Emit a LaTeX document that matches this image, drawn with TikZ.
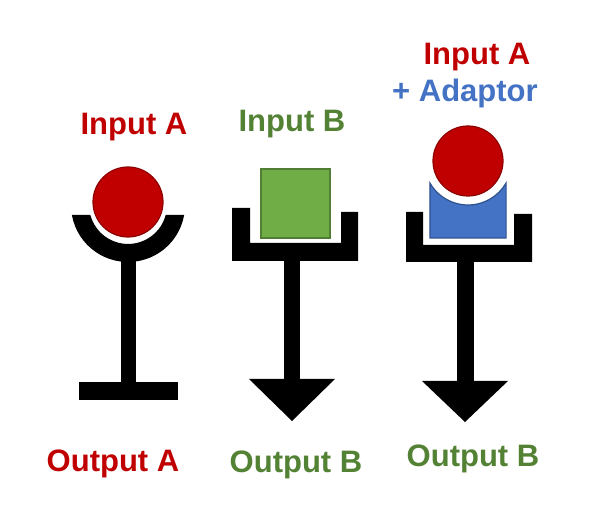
\documentclass[tikz,border=0pt]{standalone}
\usepackage{fontspec}
\setmainfont{Liberation Sans}
\definecolor{inred}{HTML}{C00000}
\definecolor{inredd}{HTML}{8E0000}
\definecolor{ingreen}{HTML}{70AD47}
\definecolor{ingreend}{HTML}{507E32}
\definecolor{txtgreen}{HTML}{548235}
\definecolor{inblue}{HTML}{4472C4}
\definecolor{inblued}{HTML}{2F528F}
\begin{document}
\begin{tikzpicture}[x=1pt,y=1pt,
  lbl/.style={anchor=base,inner sep=0pt,font=\fontsize{31}{35}\selectfont\bfseries},
  redball/.style={fill=inred,draw=inredd,line width=1.2pt},
  blk/.style={fill=black}]
\useasboundingbox (0,0) rectangle (590,506);
\fill[white] (0,0) rectangle (590,506);
% ---------- left: Input A -> Output A
\fill[blk] (71.9,291) arc[start angle=190.1,end angle=349.9,radius=57]
  -- (165.7,291) arc[start angle=345.1,end angle=194.9,radius=39] -- cycle;
\fill[blk] (120.5,250) rectangle (135.5,124);
\fill[blk] (79,124) rectangle (178,106);
\draw[redball] (128,304) circle[radius=35];
% ---------- middle: Input B -> Output B
\fill[ingreen,draw=ingreend,line width=2pt] (261,337) rectangle (330,268);
\fill[blk] (232,298) -- (250,298) -- (250,263) -- (341,263) -- (341,294)
  -- (358,294) -- (358,245) -- (232,245) -- cycle;
\fill[blk] (284,250) rectangle (300,126);
\fill[blk] (249,127) -- (335,127) -- (292,85) -- cycle;
% ---------- right: Input A + Adaptor -> Output B
\fill[blk] (406,294) -- (423,294) -- (423,261) -- (514,261) -- (514,292)
  -- (532,292) -- (532,244) -- (406,244) -- cycle;
\fill[blk] (457,250) rectangle (474,124);
\fill[blk] (422,125) -- (508,125) -- (465,84) -- cycle;
\filldraw[fill=inblue,draw=inblued,line width=1.2pt] (430,268) -- (429.9,323)
  arc[start angle=210,end angle=330,radius=44] -- (506.1,268) -- cycle;
\draw[redball] (468,345) circle[radius=35];
% ---------- labels
\node[lbl,text=inred] (inA) at (134,371) {Input A};
\node[lbl,text=txtgreen] (inB) at (292,374) {Input B};
\node[lbl,text=inred] (inA2) at (477,441) {Input A};
\node[lbl,text=inblue] (adapt) at (465,404) {+ Adaptor};
\node[lbl,text=inred] (outA) at (113,34) {Output A};
\node[lbl,text=txtgreen] (outB) at (296,33) {Output B};
\node[lbl,text=txtgreen] (outB2) at (473,39) {Output B};
\end{tikzpicture}
\end{document}
